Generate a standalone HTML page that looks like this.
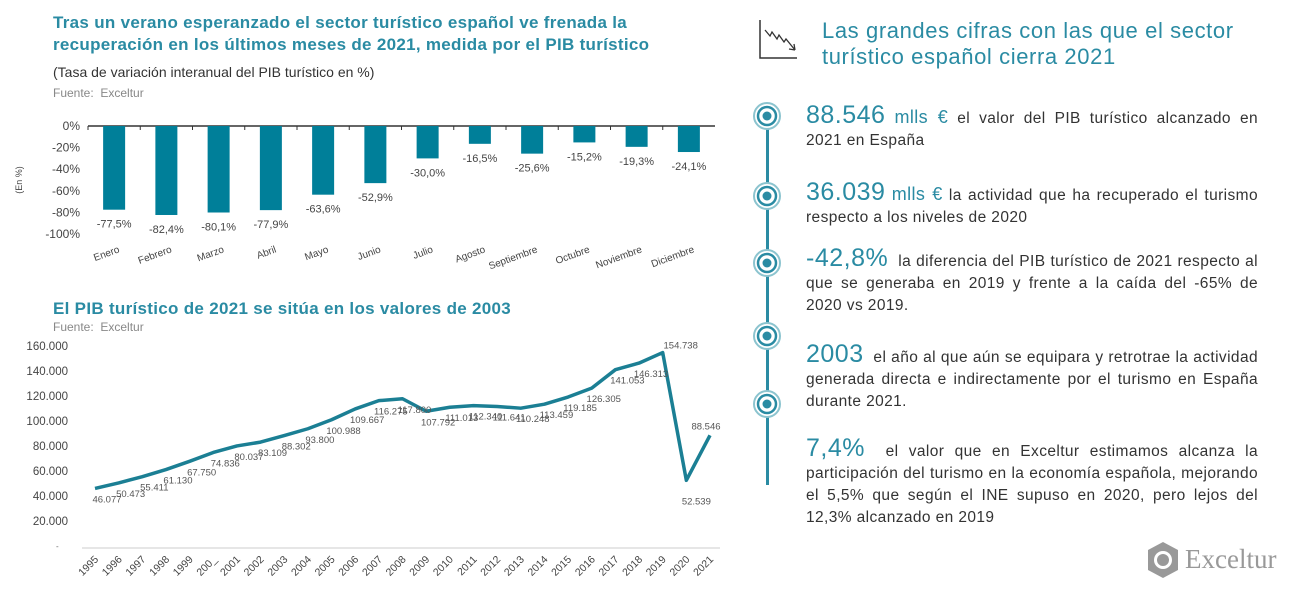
<!DOCTYPE html>
<html><head><meta charset="utf-8"><style>
body{margin:0;width:1303px;height:590px;background:#fff;position:relative;overflow:hidden;font-family:"Liberation Sans",sans-serif}
.abs{position:absolute}
.t1{color:#2a8ba3;font-weight:bold;font-size:17px;line-height:22px;letter-spacing:0.3px}
.item{position:absolute;left:806px;width:452px;font-size:15.5px;line-height:22px;color:#333;text-align:justify;letter-spacing:0.4px}
.big{font-size:25px;color:#2a8ba3;letter-spacing:0.5px}
.mid{font-size:18px;color:#2a8ba3}
</style></head><body>
<div class="abs t1" style="left:53px;top:12px;width:640px">Tras un verano esperanzado el sector turístico español ve frenada la recuperación en los últimos meses de 2021, medida por el PIB turístico</div>
<div class="abs" style="left:53px;top:64px;font-size:14px;color:#333">(Tasa de variación interanual del PIB turístico en %)</div>
<div class="abs" style="left:53px;top:86px;font-size:12px;color:#888">Fuente:&nbsp; Exceltur</div>
<div class="abs t1" style="left:53px;top:298px">El PIB turístico de 2021 se sitúa en los valores de 2003</div>
<div class="abs" style="left:53px;top:320px;font-size:12px;color:#888">Fuente:&nbsp; Exceltur</div>
<svg id="bars" class="abs" style="left:0;top:0" width="730" height="590"></svg>

<svg class="abs" style="left:755px;top:18px" width="50" height="54">
<path d="M5 2V40H42" fill="none" stroke="#333" stroke-width="1.5"/>
<path d="M10 12L15 18L17 14L22 21L24 17L29 24L31 21L40 32M40 32L34 31M40 32L39 26" fill="none" stroke="#333" stroke-width="1.3"/>
</svg>
<div class="abs" style="left:822px;top:18px;width:470px;font-size:22px;line-height:26px;color:#2a8ba3;letter-spacing:0.6px">Las grandes cifras con las que el sector turístico español cierra 2021</div>
<div class="abs" style="left:766px;top:110px;width:3px;height:375px;background:#2a8ba3"></div>
<div id="dots"></div>
<div class="item" style="top:104px"><span class="big">88.546</span> <span class="mid">mlls €</span> el valor del PIB turístico alcanzado en 2021 en España</div>
<div class="item" style="top:181px"><span class="big">36.039</span> <span class="mid">mlls €</span> la actividad que ha recuperado el turismo respecto a los niveles de 2020</div>
<div class="item" style="top:247px"><span class="big">-42,8%</span>&nbsp; la diferencia del PIB turístico de 2021 respecto al que se generaba en 2019 y frente a la caída del -65% de 2020 vs 2019.</div>
<div class="item" style="top:343px"><span class="big">2003</span>&nbsp; el año al que aún se equipara y retrotrae la actividad generada directa e indirectamente por el turismo en España durante 2021.</div>
<div class="item" style="top:437px"><span class="big">7,4%</span>&nbsp; el valor que en Exceltur estimamos alcanza la participación del turismo en la economía española, mejorando el 5,5% que según el INE supuso en 2020, pero lejos del 12,3% alcanzado en 2019</div>
<div class="abs" style="left:1145px;top:540px;width:150px;height:40px">
<svg width="36" height="40" style="position:absolute;left:0;top:0"><polygon points="18,2 33,10 33,30 18,38 3,30 3,10" fill="#999"/><circle cx="18" cy="20" r="9" fill="#fff"/><circle cx="18" cy="20" r="6" fill="#999"/></svg>
<span style="position:absolute;left:40px;top:4px;font-family:'Liberation Serif',serif;font-size:27px;color:#999">Exceltur</span></div>
<script>
const months=["Enero","Febrero","Marzo","Abril","Mayo","Junio","Julio","Agosto","Septiembre","Octubre","Noviembre","Diciembre"];
const monthVals=[-77.5,-82.4,-80.1,-77.9,-63.6,-52.9,-30.0,-16.5,-25.6,-15.2,-19.3,-24.1];
const barTicks=[0,-20,-40,-60,-80,-100];
const years=["1995","1996","1997","1998","1999","200_","2001","2002","2003","2004","2005","2006","2007","2008","2009","2010","2011","2012","2013","2014","2015","2016","2017","2018","2019","2020","2021"];
const pib=[46077,50473,55411,61130,67750,74836,80037,83109,88302,93800,100988,109667,116275,117800,107792,111013,112340,111641,110248,113459,119185,126305,141053,146313,154738,52539,88546];
const lineTicks=[0,20000,40000,60000,80000,100000,120000,140000,160000];
const NS="http://www.w3.org/2000/svg",svg=document.getElementById('bars');
function mk(t,a,txt){const e=document.createElementNS(NS,t);for(const k in a)e.setAttribute(k,a[k]);if(txt!=null)e.textContent=txt;svg.appendChild(e);return e;}
const fmt=v=>v.toFixed(1).replace('.',',')+'%';
const th=v=>String(v).replace(/\B(?=(\d{3})+(?!\d))/g,'.');
const bx0=88,bx1=715;
function byF(v){return 126+(-v)*1.08;}
const bstep=(bx1-bx0)/months.length;
let e=mk('line',{x1:bx0,x2:bx1,y1:126,y2:126,stroke:'#333','stroke-width':1.5});

barTicks.forEach(t=>{const el=mk('text',{x:80,y:byF(t)+4,'text-anchor':'end','font-size':12,fill:'#444'},t+'%');
});
const yl=mk('text',{x:22,y:180,'font-size':9,fill:'#444',transform:'rotate(-90 22 180)','text-anchor':'middle'},'(En %)');

months.forEach((m,i)=>{const cx=bx0+bstep*(i+0.5),v=monthVals[i];
 mk('line',{x1:bx0+bstep*i,x2:bx0+bstep*i,y1:126,y2:130,stroke:'#333'});
 const r=mk('rect',{x:cx-11,y:126,width:22,height:byF(v)-126,fill:'#007f99'});
 
 const l=mk('text',{x:cx,y:byF(v)+18,'text-anchor':'middle','font-size':11,fill:'#444'},fmt(v));
 
 const xl=mk('text',{x:cx+6,y:252,'text-anchor':'end','font-size':10,fill:'#444',transform:'rotate(-20 '+(cx+6)+' 252)'},m);
 });
const ly=v=>546-v/20000*25, lx0=95,lx1=710,lstep=(lx1-lx0)/(years.length-1),lx=i=>lx0+i*lstep;
lineTicks.forEach(t=>{if(t===0){mk('text',{x:56,y:549,'font-size':8,fill:'#666'},'-');return;}
 const el=mk('text',{x:68,y:ly(t)+4,'text-anchor':'end','font-size':11.5,fill:'#444'},th(t));
 });
const ax=mk('line',{x1:82,x2:720,y1:548,y2:548,stroke:'#ddd','stroke-width':1.5});

const p=mk('polyline',{points:pib.map((v,i)=>lx(i)+','+ly(v)).join(' '),fill:'none',stroke:'#1b7f94','stroke-width':3.5,'stroke-linejoin':'round'});

years.forEach((y,i)=>{const x=lx(i)+4;
 const el=mk('text',{x:x,y:560,'text-anchor':'end','font-size':10.5,fill:'#444',transform:'rotate(-45 '+x+' 560)'},y);
 
 const v=pib[i];
 let yy=ly(v)+14,xx=lx(i)+12;
 if(i==24){yy=ly(v)-4;xx=lx(i)+18;}
 if(i==25){yy=ly(v)+24;xx=lx(i)+10;}
 if(i==26){yy=ly(v)-6;xx=lx(i)-4;}
 const lb=mk('text',{x:xx,y:yy,'text-anchor':'middle','font-size':9.5,fill:'#555'},th(v));
 });
const dotY=[116,196,263,336,404],dc=document.getElementById('dots');
dotY.forEach(y=>{const d=document.createElement('div');


d.style.cssText='position:absolute;left:753px;top:'+(y-14)+'px;width:28px;height:28px';
d.innerHTML='<svg width="28" height="28"><circle cx="14" cy="14" r="13" fill="#fff" stroke="#8cc4cf" stroke-width="2"/><circle cx="14" cy="14" r="9" fill="#fff" stroke="#2a8ba3" stroke-width="2.5"/><circle cx="14" cy="14" r="4.5" fill="#2a8ba3"/></svg>';
dc.appendChild(d);});
</script>
</body></html>
